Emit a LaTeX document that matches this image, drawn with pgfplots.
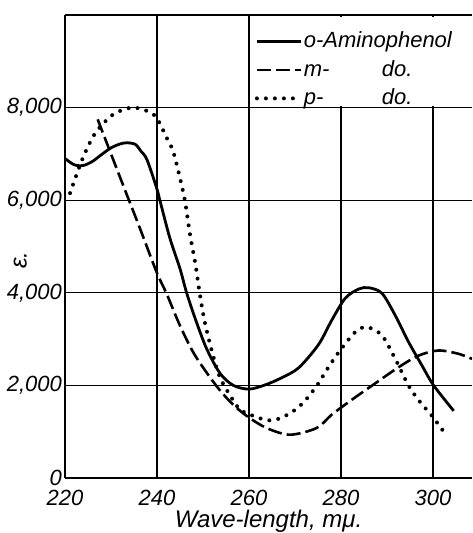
\documentclass[border=0pt]{standalone}
\usepackage{fontspec}
\setmainfont{Liberation Sans}
\usepackage{pgfplots}
\pgfplotsset{compat=1.18}

\pgfplotstableread{
x y
220 6900
222 6765
224 6750
226 6840
228 6990
230 7130
232 7215
233.5 7240
235.3 7205
236.5 7060
237.8 6880
239.9 6270
240.7 5970
242.8 5180
245 4520
246.5 3980
248.6 3360
250.8 2790
253.7 2260
256.6 2000
260 1920
263.5 2010
267 2160
270.8 2380
275.1 2880
278 3410
280.9 3880
283.8 4080
286 4110
288.9 3990
291.8 3510
294.7 2935
297.6 2430
300.1 2005
304.5 1450
}\ortho

\pgfplotstableread{
x y
227.1 7746
230 7000
233 6230
236.3 5390
239.9 4450
242.1 3978
245 3290
247.9 2710
250.8 2275
253.7 1890
256.5 1590
259.5 1340
263.8 1080
268.9 935
274.7 1080
278 1370
282.5 1700
286.7 1993
292.5 2391
296.9 2645
301.2 2754
305.6 2681
308.5 2572
}\meta

\pgfplotstableread{
x y
221.1 6152
223.3 6768
225 7160
226.9 7493
230.5 7855
234.5 8000
237.8 7928
239.9 7783
242.1 7348
243.5 7058
245 6478
246.1 5971
247.2 5246
248.3 4650
249.3 3978
250.4 3362
252.2 2638
253.7 2170
255.9 1780
258 1480
260.2 1370
263.8 1250
266.5 1280
269.6 1442
272 1650
274.7 1986
277 2350
279.5 2717
283.1 3152
285.6 3261
288.9 3080
291.8 2572
294.7 1993
297.2 1640
299.8 1341
303 906
}\para

\begin{document}
\begin{tikzpicture}
\useasboundingbox (-32.5pt,-27.5pt) rectangle (203.5pt,239pt);
\begin{axis}[
  scale only axis, width=203.5pt, height=231.5pt,
  xmin=220, xmax=308.48, ymin=0, ymax=10000,
  axis y line*=left,
  axis line style={line width=1.1pt},
  xtick={220,240,260,280,300},
  ytick={0,2000,4000,6000,8000},
  yticklabels={0,{2,000},{4,000},{6,000},{8,000}},
  scaled ticks=false,
  major tick length=0pt,
  grid=major,
  major grid style={black, line width=0.6pt},
  /pgf/number format/assume math mode=true,
  tick label style={font=\fontsize{11}{13}\selectfont\itshape},
  yticklabel style={xshift=2pt},
  xticklabel style={yshift=-2.5pt},
  xlabel={Wave-length, mμ.},
  ylabel={ε.},
  label style={font=\fontsize{12}{14}\selectfont\itshape},
  xlabel style={at={(axis description cs:0.5,-0.094)}, anchor=center},
  ylabel style={at={(axis description cs:-0.11,0.47)}, anchor=center},
  legend image code/.code={\path (0pt,0pt); \draw[#1] (0pt,3pt) -- (22pt,3pt);},
  legend style={at={(axis description cs:0.954,0.997)}, anchor=north east,
    draw=none, fill=white, inner sep=0pt, row sep=5pt,
    font=\fontsize{11}{13}\selectfont\itshape,
    cells={anchor=base west},
    nodes={inner sep=0.5pt, text depth=0pt}},
]
\addplot[black, line width=1.4pt, smooth] table {\ortho};
\addplot[black, line width=1.3pt, smooth, dash pattern=on 7pt off 2.5pt] table {\meta};
\addplot[black, line width=2pt, smooth, line cap=round, dash pattern=on 0pt off 4.5pt] table {\para};
\legend{\rule{0pt}{15pt}o-Aminophenol,\makebox[39pt][l]{m-}do.,\makebox[39pt][l]{p-}do.}
\end{axis}
\end{tikzpicture}
\end{document}
